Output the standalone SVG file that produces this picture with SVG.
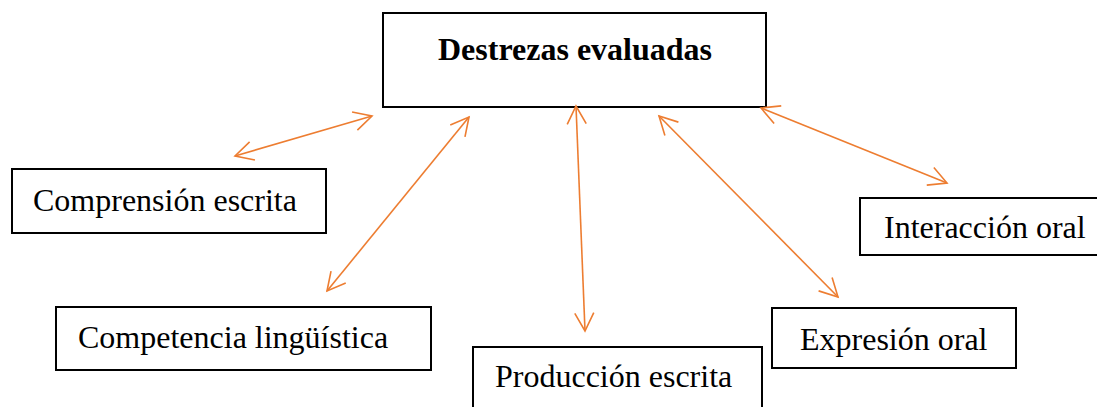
<svg xmlns="http://www.w3.org/2000/svg" width="1097" height="407" viewBox="0 0 1097 407">
<style>
.box{fill:#fff;stroke:#000;stroke-width:2}
.t{font-family:"Liberation Serif","Times New Roman",serif;font-size:32px;fill:#000}
.b{font-weight:bold}
.c{fill:none;stroke:#ED7D31;stroke-width:1.6;marker-start:url(#ah);marker-end:url(#ah)}
</style>
<defs>
<marker id="ah" viewBox="0 0 22 22" refX="19" refY="11" markerWidth="22" markerHeight="22" markerUnits="userSpaceOnUse" orient="auto-start-reverse">
<path d="M1,1.5 L19,11 L1,20.5" fill="none" stroke="#ED7D31" stroke-width="1.6"/>
</marker>
</defs>
<rect width="1097" height="407" fill="#fff"/>
<g id="n-destrezas"><rect class="box" x="383" y="13" width="383" height="94"/><text class="t b" x="438" y="60">Destrezas evaluadas</text></g>
<g id="n-comprension"><rect class="box" x="12" y="169" width="314" height="64"/><text class="t" x="33" y="211">Comprensión escrita</text></g>
<g id="n-competencia"><rect class="box" x="56" y="307" width="375" height="63"/><text class="t" x="78" y="348">Competencia lingüística</text></g>
<g id="n-produccion"><rect class="box" x="473" y="347" width="289" height="70"/><text class="t" x="495" y="387">Producción escrita</text></g>
<g id="n-expresion"><rect class="box" x="772" y="308" width="244" height="60"/><text class="t" x="800" y="350">Expresión oral</text></g>
<g id="n-interaccion"><rect class="box" x="860" y="198" width="240" height="57"/><text class="t" x="884" y="238">Interacción oral</text></g>
<g id="connectors">
<line class="c" x1="235" y1="156" x2="372" y2="116"/>
<line class="c" x1="327" y1="291" x2="469" y2="117"/>
<line class="c" x1="576" y1="106" x2="585" y2="331"/>
<line class="c" x1="659" y1="116" x2="838" y2="297"/>
<line class="c" x1="761" y1="108" x2="947" y2="183"/>
</g>
</svg>
